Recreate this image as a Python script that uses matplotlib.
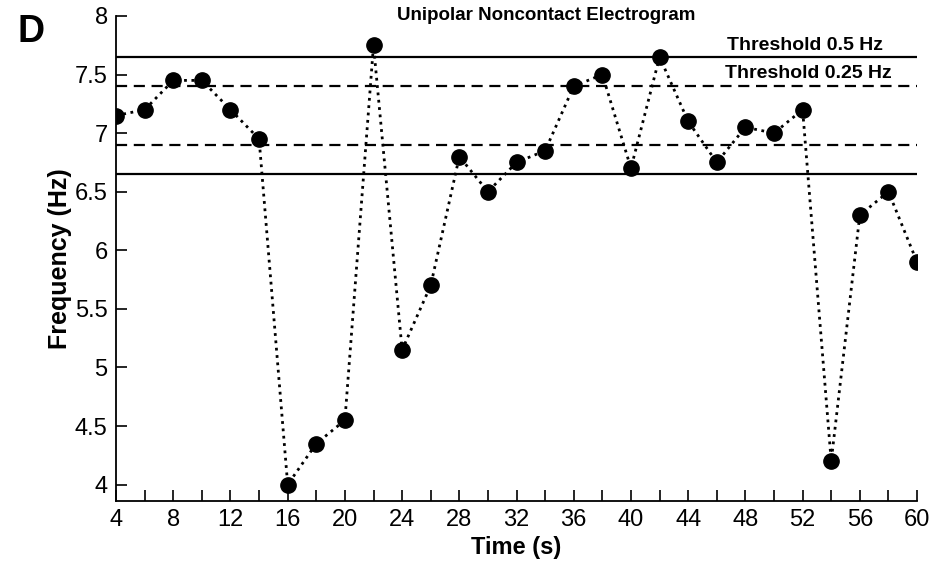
import numpy as np
import matplotlib
matplotlib.use("Agg")
import matplotlib.pyplot as plt

# Fréquence dominante mesurée toutes les 2 s
temps = [4, 6, 8, 10, 12, 14, 16, 18, 20, 22, 24, 26, 28, 30, 32,
         34, 36, 38, 40, 42, 44, 46, 48, 50, 52, 54, 56, 58, 60]
frequence = [7.15, 7.2, 7.45, 7.45, 7.2, 6.95, 4.0, 4.35, 4.55, 7.75,
             5.15, 5.7, 6.8, 6.5, 6.75, 6.85, 7.4, 7.5, 6.7, 7.65,
             7.1, 6.75, 7.05, 7.0, 7.2, 4.2, 6.3, 6.5, 5.9]

# Seuils autour de la fréquence moyenne
seuil_05 = [6.65, 7.65]
seuil_025 = [6.9, 7.4]

x_ticks = list(range(4, 61, 4))
y_ticks = [4, 4.5, 5, 5.5, 6, 6.5, 7, 7.5, 8]
y_labels = ["4", "4.5", "5", "5.5", "6", "6.5", "7", "7.5", "8"]

plt.rcParams["font.family"] = ["Liberation Sans", "DejaVu Sans"]

fig = plt.figure(figsize=(9.45, 5.7), dpi=100)
ax = fig.add_axes([0.1228, 0.121, 0.8476, 0.851])

for y in seuil_05:
    ax.axhline(y, color="black", lw=1.6, zorder=1)
for y in seuil_025:
    ax.axhline(y, color="black", lw=1.6, ls=(0, (5, 3)), zorder=1)

ax.plot(temps, frequence, color="black", ls=":", lw=2.0, zorder=2)
ax.plot(temps, frequence, ls="none", marker="o", ms=11,
        color="black", zorder=3)

ax.set_xlim(4, 60)
ax.set_ylim(3.86, 8)
ax.set_xticks(x_ticks)
ax.set_xticks(range(4, 61, 2), minor=True)
ax.set_yticks(y_ticks)
ax.set_yticklabels(y_labels)

for cote in ["top", "right"]:
    ax.spines[cote].set_visible(False)
for cote in ["left", "bottom"]:
    ax.spines[cote].set_linewidth(1.3)

ax.tick_params(which="both", direction="in", length=8, width=1.2,
               labelsize=17, pad=6)

ax.set_xlabel("Time (s)", fontsize=17, fontweight="bold", labelpad=3)
ax.set_ylabel("Frequency (Hz)", fontsize=18, fontweight="bold", labelpad=2)

# Titre et étiquettes des seuils
fig.text(0.578, 1 - 15 / 570, "Unipolar Noncontact Electrogram",
         fontsize=13.5, fontweight="bold", ha="center", va="center")
fig.text(883 / 945, 1 - 45 / 570, "Threshold 0.5 Hz",
         ha="right", va="center", fontsize=14, fontweight="bold")
fig.text(892 / 945, 1 - 74 / 570, "Threshold 0.25 Hz",
         ha="right", va="center", fontsize=14, fontweight="bold")

fig.text(31 / 945, 1 - 32 / 570, "D", fontsize=27, fontweight="bold",
         ha="center", va="center")

fig.savefig("out.png", dpi=100)
